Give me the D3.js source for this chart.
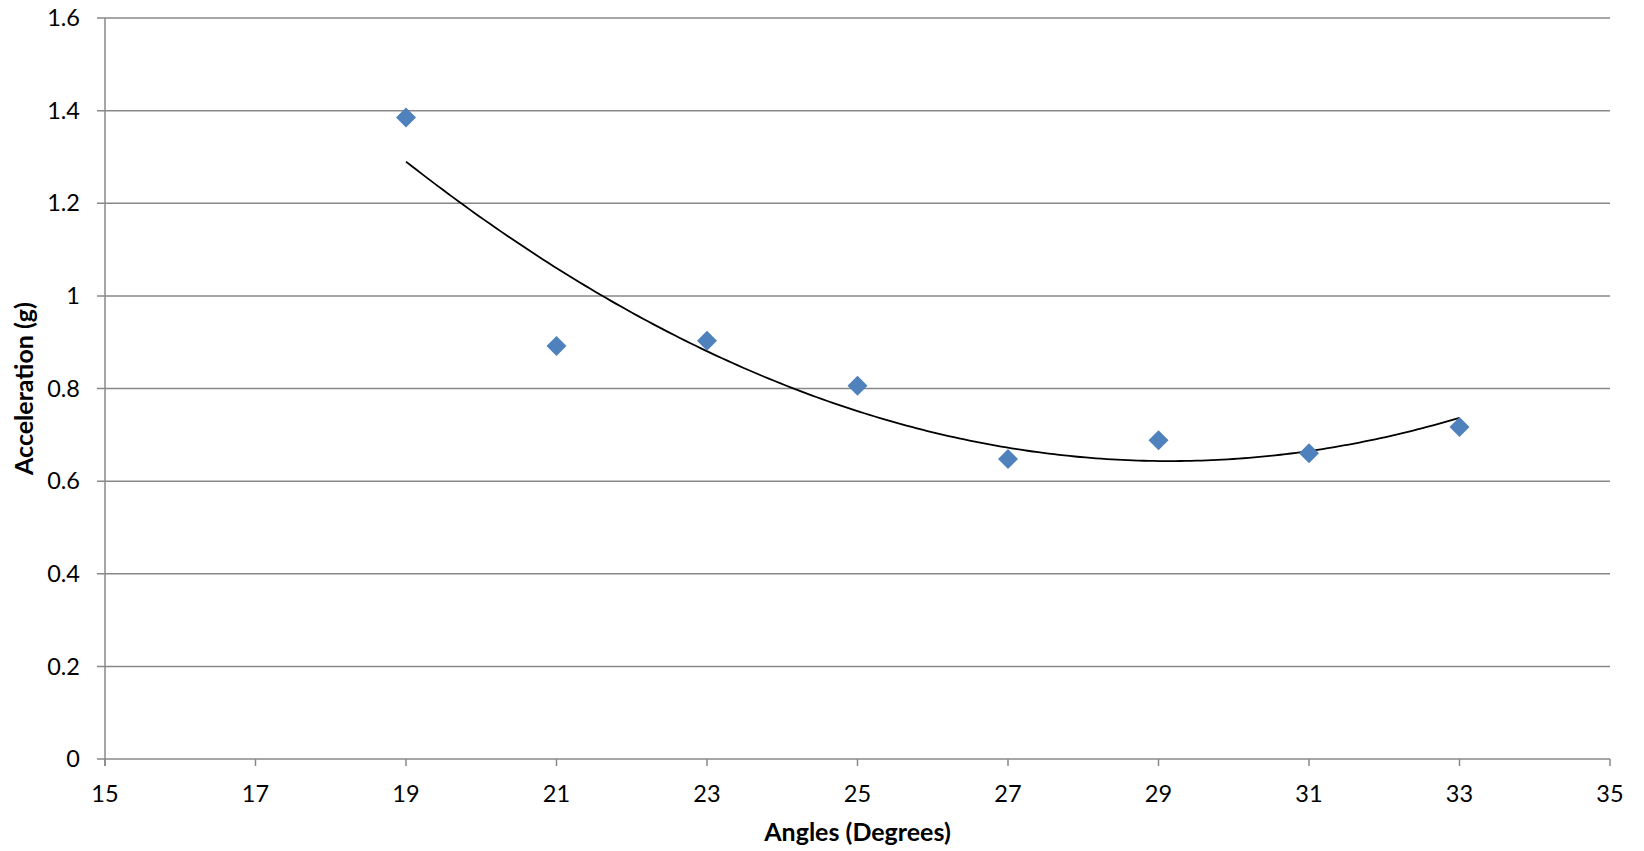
<!DOCTYPE html>
<html><head><meta charset="utf-8">
<script src="https://cdn.jsdelivr.net/npm/d3@7"></script>
<style>body{margin:0;background:#fff}svg{display:block}text{font-family:Lato,"Open Sans",sans-serif}</style>
</head><body><svg id="c" width="1644" height="851"></svg>
<script>
const angles = [19, 21, 23, 25, 27, 29, 31, 33];
const accel = [1.385, 0.892, 0.903, 0.806, 0.648, 0.688, 0.660, 0.717];
const xTicks = [15, 17, 19, 21, 23, 25, 27, 29, 31, 33, 35];
const yTicks = [0, 0.2, 0.4, 0.6, 0.8, 1, 1.2, 1.4, 1.6];

const svg = d3.select("#c");
const L = 105, R = 1610, T = 18, B = 759;
const x = d3.scaleLinear().domain([15, 35]).range([L, R]);
const y = d3.scaleLinear().domain([0, 1.6]).range([B, T]);
const grey = "#888";

// gridlines
svg.append("g").selectAll("line").data(yTicks).join("line")
  .attr("x1", L - 8).attr("x2", R).attr("y1", d => y(d)).attr("y2", d => y(d))
  .attr("stroke", grey).attr("stroke-width", 1.5);
// y axis line
svg.append("line").attr("x1", L).attr("x2", L).attr("y1", T).attr("y2", B + 7)
  .attr("stroke", grey).attr("stroke-width", 1.5);
// x ticks
svg.append("g").selectAll("line").data(xTicks).join("line")
  .attr("x1", d => x(d)).attr("x2", d => x(d)).attr("y1", B).attr("y2", B + 7)
  .attr("stroke", grey).attr("stroke-width", 1.5);

// tick labels
svg.append("g").selectAll("text").data(yTicks).join("text")
  .attr("x", L - 25).attr("y", d => y(d)).attr("dy", "0.35em")
  .attr("text-anchor", "end").attr("font-size", 23.5).attr("fill", "#000")
  .text(d => d3.format("")(d));
svg.append("g").selectAll("text").data(xTicks).join("text")
  .attr("x", d => x(d)).attr("y", 794).attr("dy", "0.35em")
  .attr("text-anchor", "middle").attr("font-size", 23.5).attr("fill", "#000")
  .text(d => d);

// axis titles
svg.append("text").attr("x", (L + R) / 2).attr("y", 832).attr("dy", "0.35em")
  .attr("text-anchor", "middle").attr("font-size", 25).attr("font-weight", "bold")
  .text("Angles (Degrees)");
svg.append("text").attr("transform", `translate(24,${(T + B) / 2}) rotate(-90)`).attr("dy", "0.35em")
  .attr("text-anchor", "middle").attr("font-size", 25).attr("font-weight", "bold")
  .text("Acceleration (g)");

// quadratic least squares trendline
function polyfit2(xs, ys) {
  const n = xs.length;
  let S = [0,0,0,0,0], Ty = [0,0,0];
  for (let i = 0; i < n; i++) {
    for (let k = 0; k <= 4; k++) S[k] += Math.pow(xs[i], k);
    for (let k = 0; k <= 2; k++) Ty[k] += ys[i] * Math.pow(xs[i], k);
  }
  const A = [[S[0],S[1],S[2],Ty[0]],[S[1],S[2],S[3],Ty[1]],[S[2],S[3],S[4],Ty[2]]];
  for (let i = 0; i < 3; i++) {
    for (let j = i + 1; j < 3; j++) {
      const f = A[j][i] / A[i][i];
      for (let k = i; k < 4; k++) A[j][k] -= f * A[i][k];
    }
  }
  const c = [0,0,0];
  for (let i = 2; i >= 0; i--) {
    let s = A[i][3];
    for (let k = i + 1; k < 3; k++) s -= A[i][k] * c[k];
    c[i] = s / A[i][i];
  }
  return c;
}
const c = polyfit2(angles, accel);
const xs = d3.range(0, 201).map(i => 19 + i * (33 - 19) / 200);
svg.append("path").datum(xs)
  .attr("d", d3.line().x(d => x(d)).y(d => y(c[0] + c[1]*d + c[2]*d*d)))
  .attr("fill", "none").attr("stroke", "#000").attr("stroke-width", 1.8);

// markers
svg.append("g").selectAll("path").data(angles).join("path")
  .attr("transform", (d, i) => `translate(${x(d)},${y(accel[i])})`)
  .attr("d", "M0,-10L10,0L0,10L-10,0Z")
  .attr("fill", "#4F81BD");
</script></body></html>
